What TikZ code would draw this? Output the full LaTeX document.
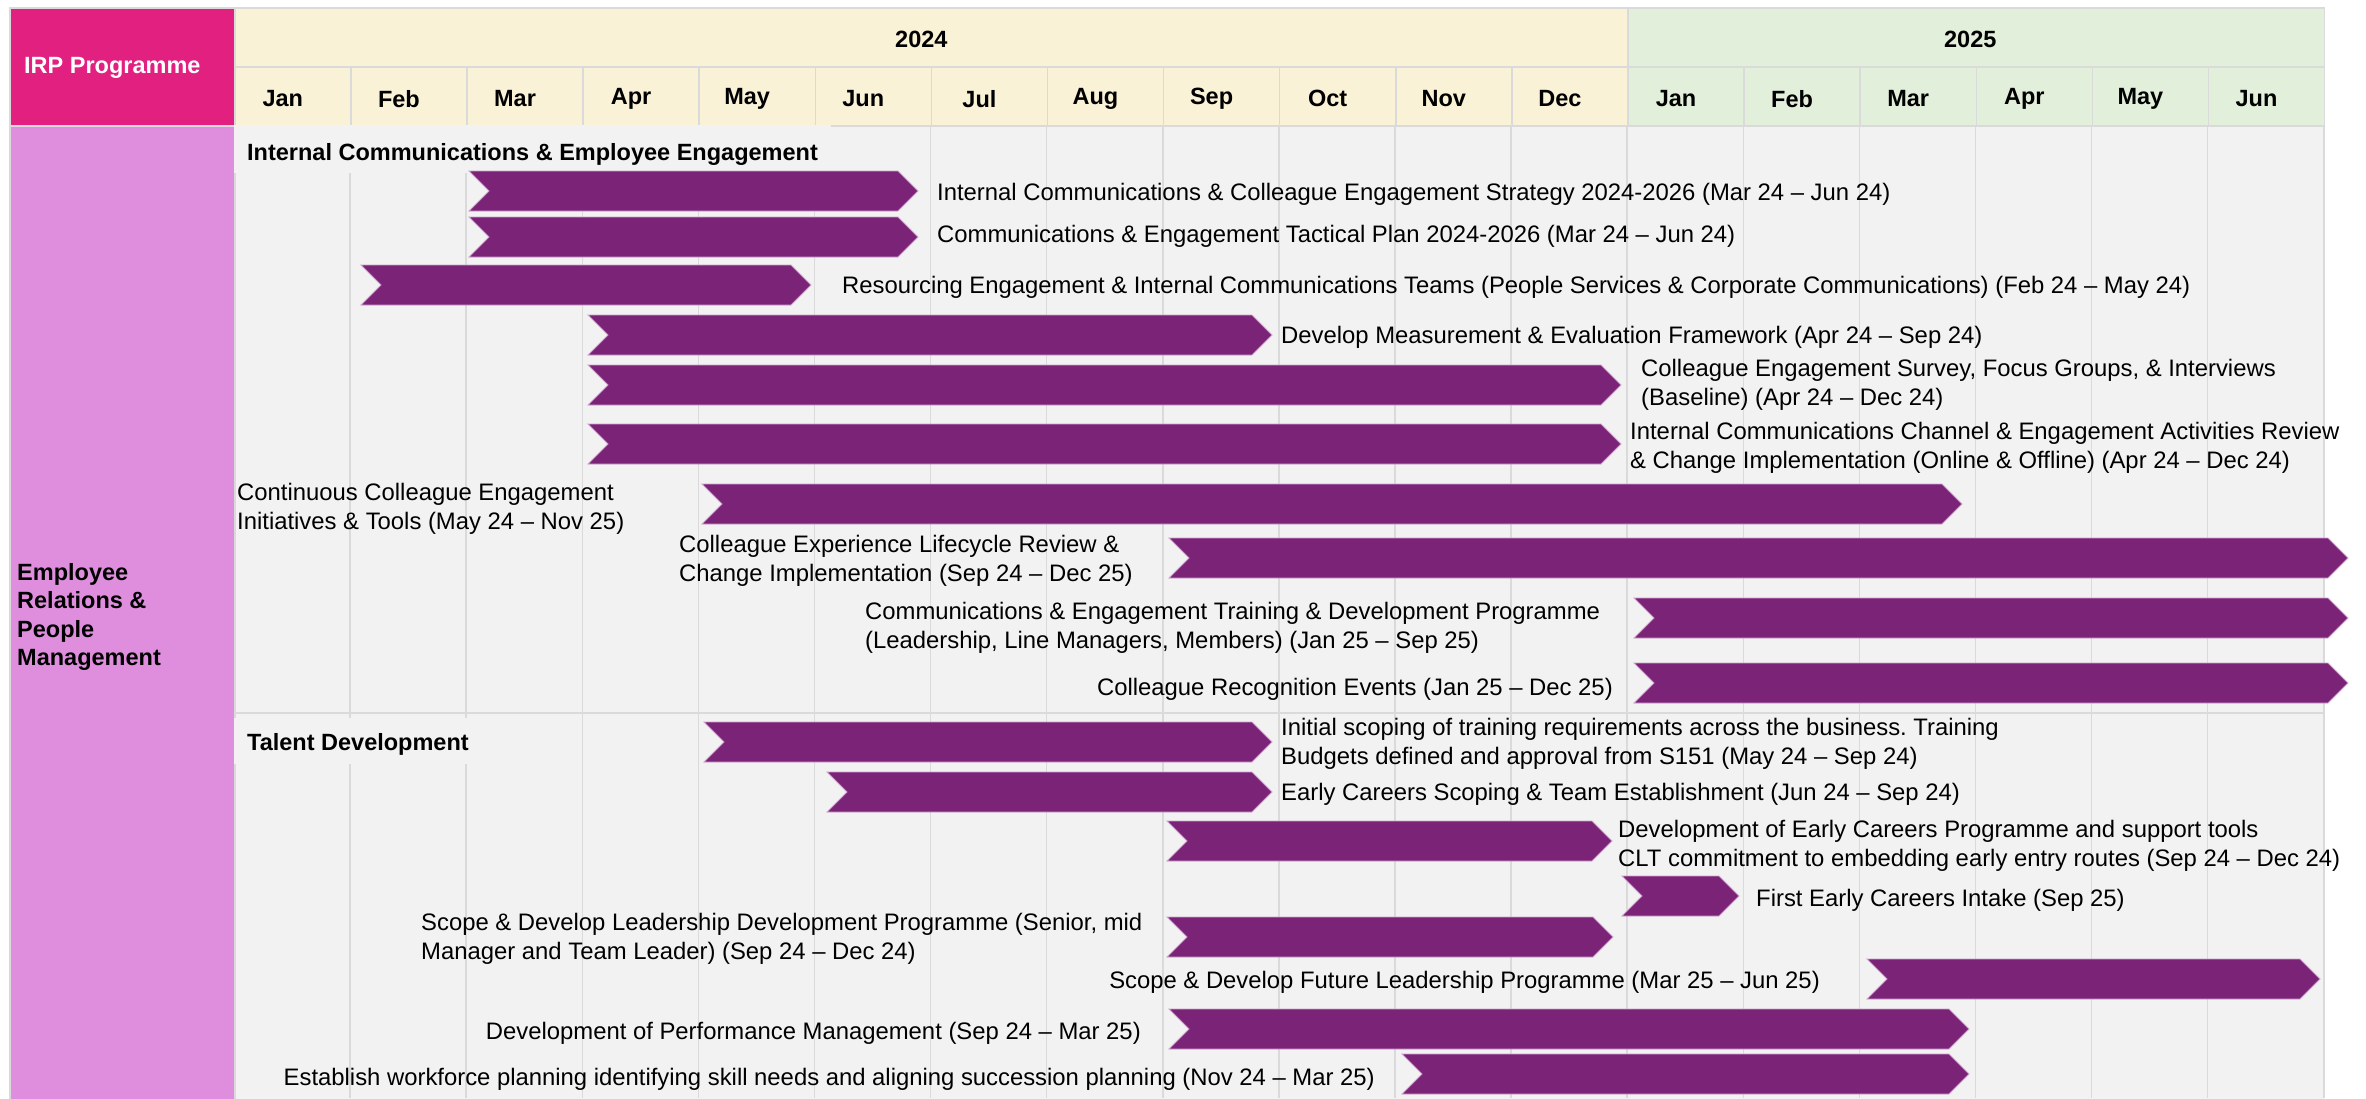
\documentclass[tikz,border=0pt]{standalone}
\usepackage{fontspec}
\setmainfont{Liberation Sans}
\usetikzlibrary{shapes.symbols}
\definecolor{irppink}{RGB}{225,32,128}
\definecolor{erlilac}{RGB}{223,142,222}
\definecolor{yrcream}{RGB}{250,242,214}
\definecolor{yrgreen}{RGB}{226,239,218}
\definecolor{bodygrey}{RGB}{242,242,242}
\definecolor{gridgrey}{RGB}{218,218,218}
\definecolor{barpurple}{RGB}{123,35,119}
\definecolor{baredge}{RGB}{205,160,205}
\newcommand{\gfont}{\fontsize{23.5}{29}\selectfont}
\newcommand{\lfont}{\fontsize{23.85}{29}\selectfont}
\frenchspacing

\begin{document}
\begin{tikzpicture}[
    x=1pt, y=-1pt,
    ycell/.style={draw=gridgrey, line width=1.5pt, anchor=north west, inner sep=0pt, minimum height=59pt},
    mcell/.style={ycell, minimum width=116.1pt},
    grid/.style={draw=gridgrey, line width=1.5pt},
    hdr/.style={font=\gfont\bfseries, inner sep=0pt},
    lbl/.style={font=\lfont, inner sep=0pt, align=left},
    sect/.style={font=\gfont\bfseries, fill=bodygrey, anchor=west, inner xsep=13pt, inner ysep=0pt},
    bar/.style={signal, signal from=west, signal to=east, signal pointer angle=90,
                fill=barpurple, draw=baredge, line width=0.8pt, minimum height=40pt, inner sep=0pt}
  ]
  \useasboundingbox (0,0) rectangle (2366,1098);
  % table frame
  \node[fill=bodygrey, anchor=north west, minimum width=2089.8pt, minimum height=980pt, inner sep=0pt] (body) at (234,125) {};
  \node[ycell, fill=irppink, minimum width=225pt, minimum height=118pt] (irp) at (9,7) {};
  \node[hdr, text=white, anchor=west] (irpt) at (24,68) {IRP Programme};
  \node[ycell, fill=erlilac, minimum width=225pt, minimum height=980pt] (er) at (9,125) {};
  \node[hdr, anchor=west, align=left, font=\fontsize{23.5}{28.5}\selectfont\bfseries] (ert) at (17,617) {Employee\\Relations \&\\People\\Management};
  \node[ycell, fill=yrcream, minimum width=1393.2pt] (y24) at (234,7) {};
  \node[hdr] (y24t) at ([xshift=-10pt,yshift=-2.5pt]y24.center) {2024};
  \node[ycell, fill=yrgreen, minimum width=696.6pt] (y25) at (1627.2,7) {};
  \node[hdr] (y25t) at ([xshift=-6pt,yshift=-2.5pt]y25.center) {2025};
  \foreach \m [count=\i from 0] in {Jan,Feb,Mar,Apr,May,Jun,Jul,Aug,Sep,Oct,Nov,Dec} {
    \node[mcell, fill=yrcream] (ma\i) at (234+116.1*\i,66) {};
    \node[hdr] (ta\i) at ([xshift=-10pt,yshift=-2.5pt]ma\i.center) {\m};
  }
  \foreach \m [count=\i from 0] in {Jan,Feb,Mar,Apr,May,Jun} {
    \node[mcell, fill=yrgreen] (mb\i) at (1627.2+116.1*\i,66) {};
    \node[hdr] (tb\i) at ([xshift=-10pt,yshift=-2.5pt]mb\i.center) {\m};
  }
  % month grid
  \foreach \i in {1,...,18} { \draw[grid] (234+116.1*\i,125) -- (234+116.1*\i,1098); }
  \draw[grid] (234,713) -- (2323.8,713);
  \node[sect, text height=35.4pt, text depth=12.6pt] (s1) at (234,149) {Internal Communications \& Employee Engagement};
  \node[sect, text height=32.4pt, text depth=13.6pt] (s2) at (234,741) {Talent Development};
  % activity bars
  \foreach \l/\r/\y [count=\i] in {469/918/191, 469/918/237, 361/811/285, 588/1272/335,
      588/1621/385, 588/1621/444, 702/1962/504, 1169/2348/558, 1634/2348/618, 1634/2348/683,
      704/1272/742, 827/1272/792, 1167/1612/841, 1622/1739/896, 1167/1613/937, 1867/2320/979,
      1169/1969/1029, 1402/1969/1074} {
    \node[bar, minimum width={(\r-\l)*1pt}] (b\i) at ({(\l+\r)/2},\y) {};
  }
  % labels
  \node[lbl, anchor=west] (l1) at (937,194) {Internal Communications \& Colleague Engagement Strategy 2024-2026 (Mar 24 -- Jun 24)};
  \node[lbl, anchor=west] (l2) at (937,236) {Communications \& Engagement Tactical Plan 2024-2026 (Mar 24 -- Jun 24)};
  \node[lbl, anchor=west] (l3) at (842,287) {Resourcing Engagement \& Internal Communications Teams (People Services \& Corporate Communications) (Feb 24 -- May 24)};
  \node[lbl, anchor=west] (l4) at (1281,337) {Develop Measurement \& Evaluation Framework (Apr 24 -- Sep 24)};
  \node[lbl, anchor=west] (l5) at (1641,385) {Colleague Engagement Survey, Focus Groups, \& Interviews\\(Baseline) (Apr 24 -- Dec 24)};
  \node[lbl, anchor=west] (l6) at (1630,448) {Internal Communications Channel \& Engagement Activities Review\\\& Change Implementation (Online \& Offline) (Apr 24 -- Dec 24)};
  \node[lbl, anchor=west] (l7) at (237,509) {Continuous Colleague Engagement\\Initiatives \& Tools (May 24 -- Nov 25)};
  \node[lbl, anchor=west] (l8) at (679,561) {Colleague Experience Lifecycle Review \&\\Change Implementation (Sep 24 -- Dec 25)};
  \node[lbl, anchor=west] (l9) at (865,628) {Communications \& Engagement Training \& Development Programme\\(Leadership, Line Managers, Members) (Jan 25 -- Sep 25)};
  \node[lbl, anchor=east] (l10) at (1613,689) {Colleague Recognition Events (Jan 25 -- Dec 25)};
  \node[lbl, anchor=west] (l11) at (1281,744) {Initial scoping of training requirements across the business. Training\\Budgets defined and approval from S151 (May 24 -- Sep 24)};
  \node[lbl, anchor=west] (l12) at (1281,794) {Early Careers Scoping \& Team Establishment (Jun 24 -- Sep 24)};
  \node[lbl, anchor=west] (l13) at (1618,846) {Development of Early Careers Programme and support tools\\CLT commitment to embedding early entry routes (Sep 24 -- Dec 24)};
  \node[lbl, anchor=west] (l14) at (1756,900) {First Early Careers Intake (Sep 25)};
  \node[lbl, anchor=west] (l15) at (421,939) {Scope \& Develop Leadership Development Programme (Senior, mid\\Manager and Team Leader) (Sep 24 -- Dec 24)};
  \node[lbl, anchor=east] (l16) at (1820,982) {Scope \& Develop Future Leadership Programme (Mar 25 -- Jun 25)};
  \node[lbl, anchor=east] (l17) at (1141,1033) {Development of Performance Management (Sep 24 -- Mar 25)};
  \node[lbl, anchor=east] (l18) at (1375,1079) {Establish workforce planning identifying skill needs and aligning succession planning (Nov 24 -- Mar 25)};
\end{tikzpicture}
\end{document}
